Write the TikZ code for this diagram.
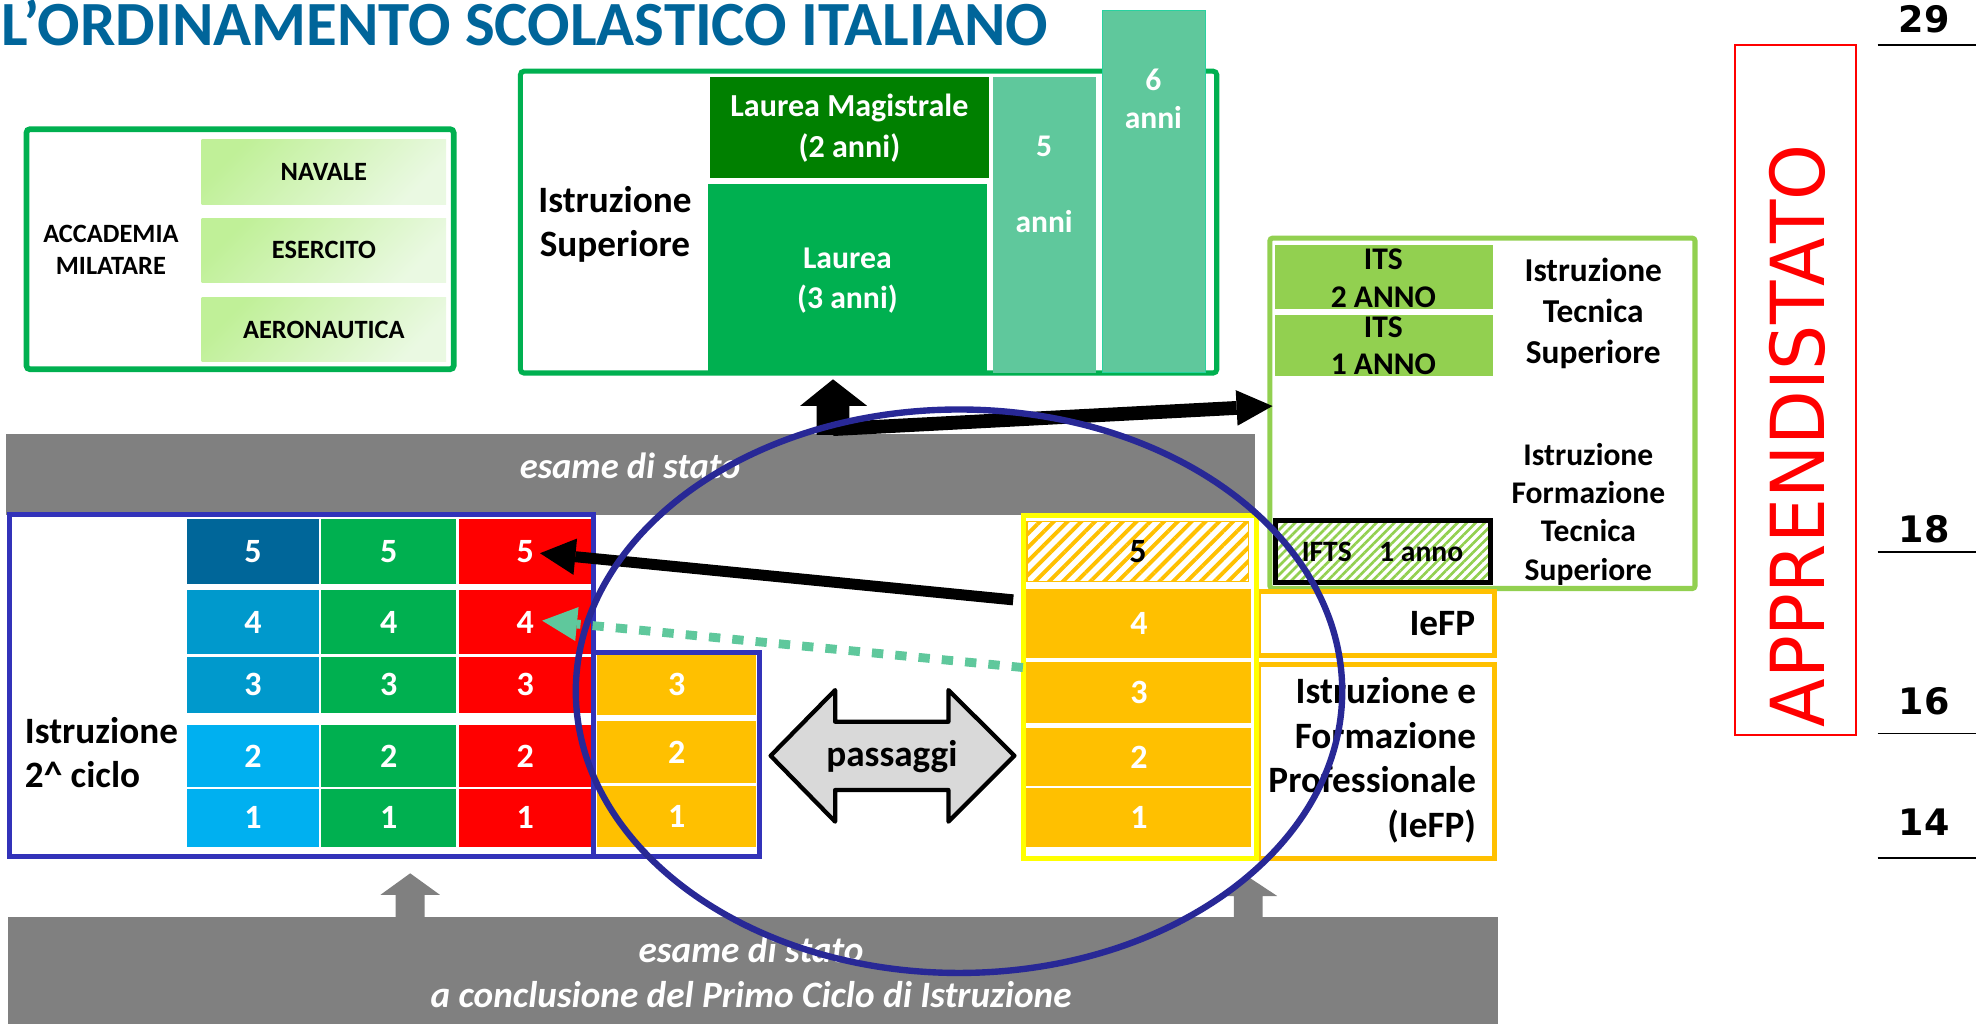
\documentclass[tikz,border=0pt]{standalone}
\usepackage{fontspec}
\setmainfont{Carlito}
\newfontfamily\appfont{DejaVu Sans}[FakeStretch=0.955]
\newfontfamily\numfont{DejaVu Sans}
\usetikzlibrary{arrows.meta,patterns.meta}
\newcommand\fsz[2]{\fontsize{#1}{#2}\selectfont}
\definecolor{titleblue}{RGB}{0,101,154}
\definecolor{accgreen}{RGB}{0,176,80}
\definecolor{dkgreen}{RGB}{0,128,0}
\definecolor{aqua}{RGB}{95,200,156}
\definecolor{aquaedge}{RGB}{40,210,160}
\definecolor{itsgreen}{RGB}{146,208,80}
\definecolor{blueA}{RGB}{0,102,153}
\definecolor{blueB}{RGB}{0,153,204}
\definecolor{blueC}{RGB}{0,176,240}
\definecolor{redc}{RGB}{255,0,0}
\definecolor{orangec}{RGB}{255,192,0}
\definecolor{yellowc}{RGB}{255,255,0}
\definecolor{boxblue}{RGB}{50,50,185}
\definecolor{ellblue}{RGB}{40,40,150}
\definecolor{greyc}{RGB}{128,128,128}
\definecolor{passgrey}{RGB}{217,217,217}
\definecolor{accA}{RGB}{192,240,152}
\definecolor{accB}{RGB}{234,249,226}
\begin{document}
\begin{tikzpicture}[x=0.025cm,y=-0.025cm,
  rc/.style args={#1:#2:#3:#4}{inner sep=0pt, outer sep=0pt,
     minimum width={(#3-#1)*0.025cm}, minimum height={(#4-#2)*0.025cm},
     at={({(#1+#3)/2},{(#2+#4)/2})}},
  ml/.style={inner sep=0pt, yshift=0.7*#1},
  accfill/.style={top color=accA, bottom color=accB, shading angle=45, font=\fsz{14.9}{18}\bfseries},
  cell/.style={text=white, font=\fsz{19.2}{23}\bfseries},
  hatchO/.style={pattern={Lines[angle=45,distance=5.5pt,line width=2.2pt]}, pattern color=orangec},
  hatchG/.style={pattern={Lines[angle=45,distance=3.6pt,line width=1.5pt]}, pattern color=itsgreen},
  numlbl/.style={anchor=base, inner sep=0pt, font=\numfont\bfseries\fsz{20.6}{24}},
  agelinestyle/.style={line width=1pt, black},
  greyarrow/.style={fill=greyc},
]
\fill[white] (0,0) rectangle (1568,812.6);
\useasboundingbox (0,0) rectangle (1568,812.6);

% ---- title
\node[anchor=base west, inner sep=0pt, text=titleblue, font=\fsz{35.5}{40}\bfseries] (title) at (1,36.5) {L’ORDINAMENTO SCOLASTICO ITALIANO};

% ---- accademia militare
\node[rc=21:102.5:360:293, draw=accgreen, line width=3.2pt, rounded corners=2pt] (acc) {};
\node[rc=160:111:354:162, accfill] (navale) {NAVALE};
\node[rc=160:173:354:224, accfill] (esercito) {ESERCITO};
\node[rc=160:236:354:287, accfill] (aeronautica) {AERONAUTICA};
\node[ml=18.07pt, anchor=north, align=center, font=\fsz{14.9}{18.07}\bfseries] (acct) at (88,192.3) {\strut ACCADEMIA\\MILATARE};

% ---- istruzione superiore
\node[rc=413:56.5:965.5:296, draw=accgreen, line width=2.85pt, rounded corners=2pt] (sup) {};
\node[rc=563.4:61.4:784.4:141, fill=dkgreen] (lm) {};
\node[rc=562:146:783.3:295.5, fill=accgreen] (lt) {};
\node[rc=787.6:61.4:869.6:295.8, fill=aqua] (cinque) {};
\node[rc=874.7:8.5:956.7:295.5, fill=aqua, draw=aquaedge, line width=0.7pt] (sei) {};
\node[ml=25.25pt, anchor=north, align=center, font=\fsz{21}{25.25}\bfseries] (supt) at (488,168) {\strut Istruzione\\Superiore};
\node[ml=23pt, anchor=north, align=center, text=white, font=\fsz{18.1}{23}\bfseries] (lmt) at (674,92.5) {\strut Laurea Magistrale\\(2 anni)};
\node[ml=22.55pt, anchor=north, align=center, text=white, font=\fsz{17.9}{22.55}\bfseries] (ltt) at (672.4,213) {\strut Laurea\\(3 anni)};
\node[ml=42.7pt, anchor=north, align=center, text=white, font=\fsz{17.8}{42.7}\bfseries] (cinquet) at (828.5,123.8) {\strut 5\\anni};
\node[ml=21.3pt, anchor=north, align=center, text=white, font=\fsz{17.8}{21.3}\bfseries] (seit) at (915.2,71.4) {\strut 6\\anni};

% ---- ITS / IFTS
\node[rc=1007.7:189:1345:467, draw=itsgreen, fill=white, line width=2.85pt, rounded corners=1.5pt] (itsbox) {};
\node[rc=1011.7:194.4:1184.5:245.2, fill=itsgreen] (its2) {};
\node[rc=1011.7:250:1184.5:298, fill=itsgreen] (its1) {};
\node[ml=21.3pt, anchor=north, align=center, font=\fsz{17.8}{21.3}\bfseries] (its2t) at (1097.7,213.7) {\strut ITS\\2 ANNO};
\node[ml=21.3pt, anchor=north, align=center, font=\fsz{17.8}{21.3}\bfseries] (its1t) at (1097.7,267.2) {\strut ITS\\1 ANNO};
\node[ml=23.05pt, anchor=north, align=center, font=\fsz{18.85}{23.05}\bfseries] (itst) at (1264.3,223) {\strut Istruzione\\Tecnica\\Superiore};
\node[ml=21.6pt, anchor=north, align=center, font=\fsz{17.8}{21.6}\bfseries] (iftslbl) at (1260.4,369) {\strut Istruzione\\Formazione\\Tecnica\\Superiore};
\node[rc=1012.4:412.8:1183:462.3, draw=black, line width=2.85pt, hatchG] (ifts) {};
\node[anchor=base, inner sep=0pt, font=\fsz{16.7}{20}\bfseries] (iftst) at (1097,445.7) {IFTS\hspace{15.5pt}1 anno};

% ---- apprendistato and ages
\node[rc=1377:36:1473:583.5, draw=redc, line width=1pt] (appbox) {};
\node[rotate=90, inner sep=0pt, text=redc, font=\appfont\fsz{42}{50}] (appt) at (1426.5,346) {APPRENDISTATO};
\node[numlbl] (n29) at (1527,25.8) {29};
\node[numlbl] (n18) at (1527,430.5) {18};
\node[numlbl] (n16) at (1527,567) {16};
\node[numlbl] (n14) at (1527,663) {14};
\draw[agelinestyle] (1490,35.5) -- (1568,35.5);
\draw[agelinestyle] (1490,438) -- (1568,438);
\draw[agelinestyle] (1490,582) -- (1568,582);
\draw[agelinestyle] (1490,681) -- (1568,681);

% ---- grey bars
\node[rc=5:344.5:996:409, fill=greyc] (bar1) {};
\node[anchor=base, inner sep=0pt, text=white, font=\fsz{20.6}{25}\bfseries\itshape] (bar1t) at (500,379.6) {esame di stato};
\fill[greyarrow] (325.5,693) -- (349,710) -- (337,710) -- (337,729) -- (314,729) -- (314,710) -- (302,710) -- cycle;
\fill[greyarrow] (990,695.5) -- (1013.5,711) -- (1002,711) -- (1002,729) -- (979,729) -- (979,711) -- (966,711) -- cycle;
\node[rc=6:728:1188.5:812.6, fill=greyc] (bar2) {};
\node[ml=25.4pt, anchor=north, align=center, text=white, font=\fsz{21}{25.4}\bfseries\itshape] (bar2t) at (596,763.1) {\strut esame di stato\\a conclusione del Primo Ciclo di Istruzione};

% ---- istruzione 2 ciclo
\node[rc=148:411.5:253.5:463.5, cell, fill=blueA] (b5) {5};
\node[rc=148:468.5:253.5:518.7, cell, fill=blueB] (b4) {4};
\node[rc=148:521:253.5:565.5, cell, fill=blueB] (b3) {3};
\node[rc=148:575.5:253.5:624.5, cell, fill=blueC] (b2) {2};
\node[rc=148:626:253.5:672, cell, fill=blueC] (b1) {1};
\node[rc=255:411.5:362:463.5, cell, fill=accgreen] (g5) {5};
\node[rc=255:468.5:362:518.7, cell, fill=accgreen] (g4) {4};
\node[rc=255:521:362:565.5, cell, fill=accgreen] (g3) {3};
\node[rc=255:575.5:362:624.5, cell, fill=accgreen] (g2) {2};
\node[rc=255:626:362:672, cell, fill=accgreen] (g1) {1};
\node[rc=364:411.5:469.5:463.5, cell, fill=redc] (r5) {5};
\node[rc=364:468.5:469.5:518.7, cell, fill=redc] (r4) {4};
\node[rc=364:521:469.5:565.5, cell, fill=redc] (r3) {3};
\node[rc=364:575.5:469.5:624.5, cell, fill=redc] (r2) {2};
\node[rc=364:626:469.5:672, cell, fill=redc] (r1) {1};
\node[rc=474:519.5:600:567, cell, fill=orangec] (o3) {3};
\node[rc=474:572.5:600:621.5, cell, fill=orangec] (o2) {2};
\node[rc=474:623.5:600:672, cell, fill=orangec] (o1) {1};
\node[rc=7.3:408:471.3:680, draw=boxblue, line width=2.85pt] (ciclo) {};
\node[rc=471.3:517.8:602.3:680, draw=boxblue, line width=2.85pt] (triennio) {};
\node[ml=24.5pt, anchor=north west, align=left, font=\fsz{21}{24.5}\bfseries] (ciclot) at (19.5,589.9) {\strut Istruzione\\2\textasciicircum{} ciclo};

% ---- IeFP
\node[rc=999:469.5:1186:520, draw=orangec, line width=2.85pt] (iefpbox) {};
\node[rc=999:527.5:1186:681, draw=orangec, line width=2.85pt] (iefpbig) {};
\node[anchor=base east, inner sep=0pt, font=\fsz{21}{25}\bfseries] (iefpt) at (1170.8,503.9) {IeFP};
\node[ml=25.1pt, anchor=north east, align=right, font=\fsz{21}{25.1}\bfseries] (iefpbt) at (1171.5,558.1) {\strut Istruzione e\\Formazione\\Professionale\\(IeFP)};
\node[rc=812:408.8:997:681, draw=yellowc, fill=white, line width=2.85pt] (ycol) {};
\node[rc=815:414:991:461.5, draw=orangec, line width=0.7pt, hatchO, font=\fsz{19.2}{23}\bfseries] (y5) {5};
\node[rc=814.5:467:993:522.4, cell, fill=orangec] (y4) {4};
\node[rc=814.5:525:993:573.5, cell, fill=orangec] (y3) {3};
\node[rc=814.5:578:993:624, cell, fill=orangec] (y2) {2};
\node[rc=814.5:625.6:993:672, cell, fill=orangec] (y1) {1};

% ---- passaggi
\filldraw[fill=passgrey, draw=black, line width=2.4pt, line join=round] (611.5,599.7) -- (662.7,547.6) -- (662.7,572.7) -- (752.6,572.7) -- (752.6,547.6) -- (805,599.7) -- (752.6,652) -- (752.6,626.9) -- (662.7,626.9) -- (662.7,652) -- cycle;
\node[anchor=base, inner sep=0pt, font=\fsz{21}{25}\bfseries] (passaggi) at (707.7,608.5) {passaggi};

% ---- black arrows
\fill[black] (661,301) -- (688,322) -- (674,322) -- (674,345) -- (648,345) -- (648,322) -- (635,322) -- cycle;
\coordinate (ra1) at (661,340.5);
\coordinate (ra2) at (1009.8,322.2);
\draw[line width=7.8pt, -{Triangle[length=20.3pt,width=20.1pt,line width=0pt]}] (ra1) -- (ra2);
\coordinate (ba1) at (804,476);
\coordinate (ba2) at (428.5,439);
\draw[line width=6.2pt, -{Triangle[length=20pt,width=20.6pt,line width=0pt]}] (ba1) -- (ba2);
\coordinate (ga1) at (811.7,529.7);
\coordinate (ga2) at (430.2,492.5);
\draw[aqua, line width=5pt, dash pattern=on 6.4pt off 6.8pt, -{Triangle[length=19.7pt,width=19.2pt,line width=0pt]}] (ga1) -- (ga2);

% ---- ellipse
\draw[ellblue, line width=3.6pt] (761,548.5) ellipse [x radius=7.6cm, y radius=5.5875cm];
\end{tikzpicture}
\end{document}
